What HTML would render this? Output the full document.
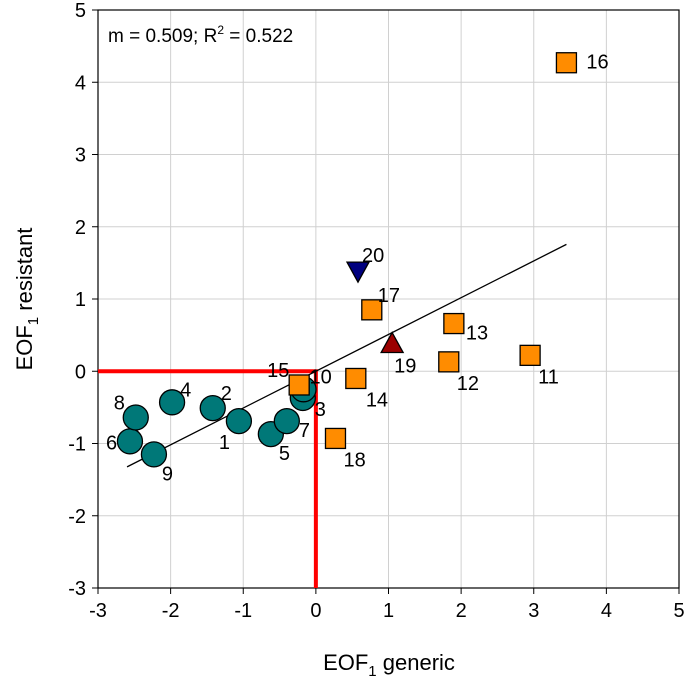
<!DOCTYPE html>
<html><head><meta charset="utf-8"><style>
body{margin:0;background:#fff;}
svg{display:block;font-family:"Liberation Sans",Arial,sans-serif;}
</style></head><body>
<svg id="chart" width="685" height="691"></svg>
<script>
const labels=["1","2","3","4","5","6","7","8","9","10","11","12","13","14","15","16","17","18","19","20"];
const xVals=[-1.06,-1.42,-0.18,-1.98,-0.62,-2.56,-0.4,-2.48,-2.23,-0.17,2.95,1.83,1.9,0.55,-0.23,3.45,0.77,0.27,1.05,0.58];
const yVals=[-0.69,-0.51,-0.37,-0.43,-0.87,-0.97,-0.69,-0.64,-1.15,-0.25,0.22,0.13,0.66,-0.1,-0.19,4.27,0.85,-0.93,0.37,1.4];
const shapes=["c","c","c","c","c","c","c","c","c","c","s","s","s","s","s","s","s","s","u","d"];
const xTicks=[-3,-2,-1,0,1,2,3,4,5];
const yTicks=[-3,-2,-1,0,1,2,3,4,5];
const fitX=[-2.6,3.45];
const slope=0.509, intercept=0.0;
const ns="http://www.w3.org/2000/svg";
const svg=document.getElementById('chart');
const L=98,R=679,T=10,B=588;
const sx=v=>L+(v+3)/8*(R-L);
const sy=v=>B-(v+3)/8*(B-T);
function mk(t,a,p){const e=document.createElementNS(ns,t);for(const k in a)e.setAttribute(k,a[k]);(p||svg).appendChild(e);return e;}
const g=mk('g',{});


xTicks.forEach(t=>{if(t>-3&&t<5)mk('line',{x1:sx(t),x2:sx(t),y1:T,y2:B,stroke:'#d0d0d0','stroke-width':1},g);});
yTicks.forEach(t=>{if(t>-3&&t<5)mk('line',{x1:L,x2:R,y1:sy(t),y2:sy(t),stroke:'#d0d0d0','stroke-width':1},g);});
const fr=mk('rect',{x:L,y:T,width:R-L,height:B-T,fill:'none',stroke:'#000','stroke-width':1.2});


xTicks.forEach(t=>{mk('line',{x1:sx(t),x2:sx(t),y1:B,y2:B+6,stroke:'#000'});
 const tx=mk('text',{x:sx(t),y:B+29,'text-anchor':'middle','font-size':20});tx.textContent=t;
 
 });
yTicks.forEach(t=>{mk('line',{x1:L-6,x2:L,y1:sy(t),y2:sy(t),stroke:'#000'});
 const tx=mk('text',{x:L-12,y:sy(t)+7,'text-anchor':'end','font-size':20});tx.textContent=t;
 
 });
const rl=mk('polyline',{points:`${L},${sy(0)} ${sx(0)},${sy(0)} ${sx(0)},${B}`,fill:'none',stroke:'#ff0000','stroke-width':4});


const fl=mk('line',{x1:sx(fitX[0]),y1:sy(slope*fitX[0]+intercept),x2:sx(fitX[1]),y2:sy(slope*fitX[1]+intercept),stroke:'#000','stroke-width':1.3});


const offs={"1":[-20,28],"2":[8,-8],"3":[12,18],"4":[8,-6],"5":[8,26],"6":[-24,8],"7":[12,16],"8":[-22,-8],"9":[8,26],"10":[6,-6],"11":[8,28],"12":[8,28],"13":[12,16],"14":[10,28],"15":[-32,-8],"16":[20,6],"17":[6,-8],"18":[8,28],"19":[2,28],"20":[4,-8]};
labels.forEach((lb,i)=>{
 const x=sx(xVals[i]),y=sy(yVals[i]);let e;
 if(shapes[i]=='c')e=mk('circle',{cx:x,cy:y,r:12.5,fill:'#007878',stroke:'#000','stroke-width':1.3});
 else if(shapes[i]=='s')e=mk('rect',{x:x-10,y:y-10,width:20,height:20,fill:'#ff8c00',stroke:'#000','stroke-width':1.3});
 else if(shapes[i]=='u')e=mk('polygon',{points:`${x},${y-12} ${x+11},${y+8} ${x-11},${y+8}`,fill:'#9b0000',stroke:'#000','stroke-width':1.3});
 else e=mk('polygon',{points:`${x-11},${y-8} ${x+11},${y-8} ${x},${y+12}`,fill:'#00007f',stroke:'#000','stroke-width':1.3});
 
 
 const o=offs[lb];
 const t=mk('text',{x:x+o[0],y:y+o[1],'font-size':20});t.textContent=lb;
 
 
});
const an=mk('text',{x:108,y:42,'font-size':19});
an.innerHTML='m = 0.509; R<tspan dy="-8" font-size="12">2</tspan><tspan dy="8"> = 0.522</tspan>';


const xt=mk('text',{x:389,y:670,'text-anchor':'middle','font-size':22});
xt.innerHTML='EOF<tspan dy="6" font-size="15">1</tspan><tspan dy="-6"> generic</tspan>';


const yt=mk('text',{x:0,y:0,'text-anchor':'middle','font-size':22,transform:'translate(32,299) rotate(-90)'});
yt.innerHTML='EOF<tspan dy="6" font-size="15">1</tspan><tspan dy="-6"> resistant</tspan>';


</script>
</body></html>
